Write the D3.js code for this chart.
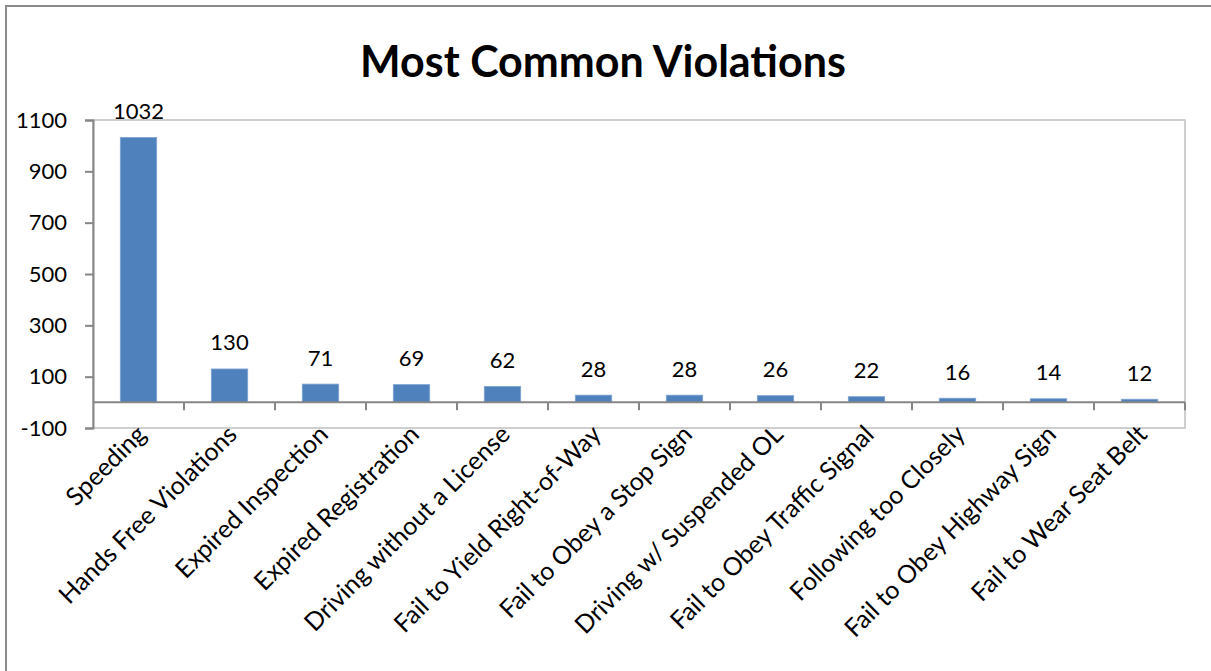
<!DOCTYPE html>
<html><head><meta charset="utf-8">
<script src="https://cdn.jsdelivr.net/npm/d3@7"></script>
<style>html,body{margin:0;padding:0;background:#fff;}</style>
</head><body>
<svg id="chart" width="1211" height="671"></svg>
<script>
const categories = ["Speeding","Hands Free Violations","Expired Inspection","Expired Registration","Driving without a License","Fail to Yield Right-of-Way","Fail to Obey a Stop Sign","Driving w/ Suspended OL","Fail to Obey Traffic Signal","Following too Closely","Fail to Obey Highway Sign","Fail to Wear Seat Belt"];
const values = [1032,130,71,69,62,28,28,26,22,16,14,12];
const yTicks = [-100,100,300,500,700,900,1100];
const title = "Most Common Violations";

const svg = d3.select("#chart");
const font = "Lato, 'Open Sans', sans-serif";
const L = 93, R = 1185, T = 120, B = 428;

svg.append("rect").attr("x",6).attr("y",6).attr("width",1400).attr("height",1000)
  .attr("fill","#fff").attr("stroke","#8c8c8c").attr("stroke-width",2);

const x = d3.scaleBand().domain(categories).range([L,R]).paddingInner(0.6).paddingOuter(0.3);
const xb = d3.scaleBand().domain(categories).range([L,R]);
const y = d3.scaleLinear().domain([-100,1100]).range([B,T]);

// plot border
svg.append("rect").attr("x",L).attr("y",T).attr("width",R-L).attr("height",B-T)
  .attr("fill","none").attr("stroke","#bfbfbf").attr("stroke-width",1.5);

// y axis
const yAxis = d3.axisLeft(y).tickValues(yTicks).tickSize(8).tickPadding(18).tickFormat(d=>String(d));
const gy = svg.append("g").attr("transform",`translate(${L},0)`).call(yAxis);
gy.select(".domain").attr("stroke","#868686").attr("stroke-width",2);
gy.selectAll(".tick line").attr("stroke","#868686").attr("stroke-width",2);
gy.selectAll(".tick text").attr("font-family",font).attr("font-size",22).attr("fill","#000");

// bars
svg.append("g").selectAll("rect").data(values).join("rect")
  .attr("x",(d,i)=>x(categories[i]))
  .attr("width",x.bandwidth())
  .attr("y",d=>y(d))
  .attr("height",d=>y(0)-y(d))
  .attr("fill","#4f81bd")
  .attr("stroke","#7ea4d3").attr("stroke-width",0.8);

// zero (category) axis
const y0 = y(0);
svg.append("line").attr("x1",L).attr("x2",R).attr("y1",y0).attr("y2",y0)
  .attr("stroke","#868686").attr("stroke-width",2);
const bounds = categories.map(c=>xb(c)).concat([R]).slice(1);
svg.append("g").selectAll("line").data(bounds).join("line")
  .attr("x1",d=>d).attr("x2",d=>d).attr("y1",y0).attr("y2",y0+8)
  .attr("stroke","#868686").attr("stroke-width",2);

// value labels
svg.append("g").selectAll("text").data(values).join("text")
  .attr("x",(d,i)=>x(categories[i])+x.bandwidth()/2)
  .attr("y",d=>y(d)-18.5)
  .attr("text-anchor","middle")
  .attr("font-family",font).attr("font-size",22).attr("fill","#000")
  .text(d=>d);

// category labels
svg.append("g").selectAll("text").data(categories).join("text")
  .attr("transform",c=>`translate(${xb(c)+xb.bandwidth()/2+9},${436}) rotate(-45)`)
  .attr("text-anchor","end")
  .attr("font-family",font).attr("font-size",25).attr("fill","#000")
  .text(c=>c);

// title
svg.append("text").attr("x",603).attr("y",77).attr("text-anchor","middle")
  .attr("font-family",font).attr("font-weight","bold").attr("font-size",43).attr("fill","#000")
  .text(title);
</script>
</body></html>
